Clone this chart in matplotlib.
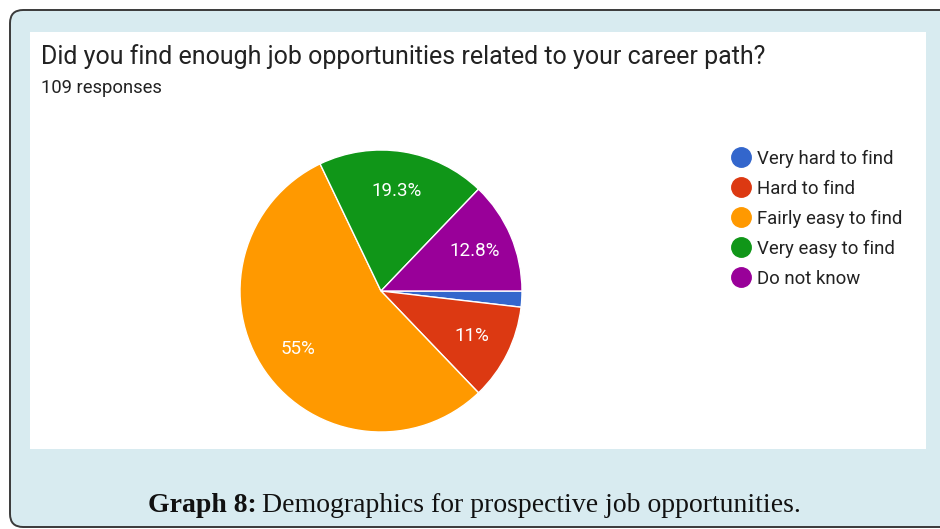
import matplotlib.pyplot as plt
from matplotlib.patches import FancyBboxPatch, Rectangle
from matplotlib.lines import Line2D

# survey answers (109 responses)
answers = ['Very hard to find', 'Hard to find', 'Fairly easy to find',
           'Very easy to find', 'Do not know']
counts = [2, 12, 60, 21, 14]
colors = ['#3366cc', '#dc3912', '#ff9900', '#109618', '#990099']

question = 'Did you find enough job opportunities related to your career path?'
n_resp = sum(counts)

W, H = 940, 529
fig = plt.figure(figsize=(W / 100, H / 100), dpi=100)
fig.patch.set_facecolor('white')


def px(x, y):
    # pixel position (from top-left) -> figure fraction
    return x / W, 1 - y / H


# light blue frame with rounded border
frame = FancyBboxPatch(px(10, 527), (W + 60) / W, 517 / H,
                       boxstyle='round,pad=0,rounding_size=0.014',
                       transform=fig.transFigure, facecolor='#d8ebf0',
                       edgecolor='#3a3a3a', linewidth=1.4, mutation_aspect=W / H,
                       zorder=-2)
fig.patches.append(frame)

# white panel of the form chart
panel = Rectangle(px(30, 449), 896 / W, 417 / H, transform=fig.transFigure,
                  facecolor='white', edgecolor='none', zorder=-1)
fig.patches.append(panel)

fig.text(*px(41, 57), question, fontsize=18, family='Roboto',
         color='#222222', va='center', ha='left')
fig.text(*px(41, 88), f'{n_resp} responses', fontsize=13.2, family='Roboto',
         color='#222222', va='center', ha='left')

# pie
cx, cy, r = 381, 291, 141
ax = fig.add_axes([(cx - r) / W, (H - cy - r) / H, 2 * r / W, 2 * r / H])
ax.set_zorder(1)


def pct_label(p):
    return '' if p < 5 else '%.3g%%' % p


wedges, texts, autotexts = ax.pie(counts, colors=colors, startangle=0,
                                  counterclock=False, autopct=pct_label,
                                  pctdistance=0.72, radius=1,
                                  wedgeprops=dict(edgecolor='white', linewidth=1))
for t in autotexts:
    t.set_color('white')
    t.set_fontsize(13.5)
    t.set_family('Roboto')
ax.set_xlim(-1, 1)
ax.set_ylim(-1, 1)
ax.axis('off')

# legend
handles = [Line2D([], [], marker='o', linestyle='none', markersize=14,
                  markerfacecolor=c, markeredgecolor=c) for c in colors]
fig.legend(handles, answers, loc='upper left', bbox_to_anchor=px(710, 133),
           frameon=False, prop=dict(family='Roboto', size=13.4),
           labelspacing=0.64, handletextpad=0.12, handlelength=1.5,
           labelcolor='#222222')

# caption below the panel
fig.canvas.draw()
rend = fig.canvas.get_renderer()
bold = fig.text(*px(148, 505), 'Graph 8:', fontsize=20, family='Liberation Serif',
                weight='bold', va='center', ha='left', color='#111111')
bb = bold.get_window_extent(renderer=rend)
fig.text((bb.x1 + 5) / W, 1 - 505 / H, 'Demographics for prospective job opportunities.',
         fontsize=20, family='Liberation Serif', va='center', ha='left',
         color='#111111')

fig.savefig('out.png', dpi=100)
